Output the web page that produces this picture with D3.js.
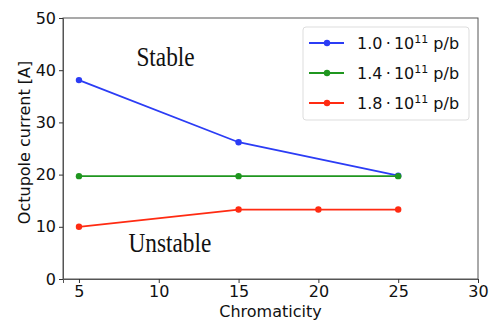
<!DOCTYPE html>
<html>
<head>
<meta charset="utf-8">
<script src="https://cdn.jsdelivr.net/npm/d3@7"></script>
<style>
  body { margin: 0; background: #fff; }
</style>
</head>
<body>
<svg id="chart" width="490" height="322"></svg>
<script>
// data
const chromaticity = [5, 15, 25]
const chromaticityRed = [5, 15, 20, 25]
const blueValues = [38.1, 26.2, 19.8]
const greenValues = [19.7, 19.7, 19.7]
const redValues = [10.0, 13.3, 13.3, 13.3]
const seriesLabels = ['1.0', '1.4', '1.8']
const xTicks = [5, 10, 15, 20, 25, 30]
const yTicks = [0, 10, 20, 30, 40, 50]

const series = [
    { name: seriesLabels[0], color: '#2b3cf5', xs: chromaticity, ys: blueValues },
    { name: seriesLabels[1], color: '#1f961f', xs: chromaticity, ys: greenValues },
    { name: seriesLabels[2], color: '#ff2b12', xs: chromaticityRed, ys: redValues }
]

const margin = { top: 18, right: 12, bottom: 43, left: 63 }
const width = 490 - margin.left - margin.right
const height = 322 - margin.top - margin.bottom
const sans = 'DejaVu Sans, sans-serif'
const serif = 'Liberation Serif, serif'

const svg = d3.select('#chart')
const g = svg.append('g')
    .attr('transform', `translate(${margin.left}, ${margin.top})`)

const x = d3.scaleLinear().domain([4, 30]).range([0, width])
const y = d3.scaleLinear().domain([0, 50]).range([height, 0])

//frame
g.append('rect')
    .attr('width', width)
    .attr('height', height)
    .attr('fill', 'none')
    .attr('stroke', '#555')
    .attr('stroke-width', 1)

//axes
const xAxis = g.append('g')
    .attr('transform', `translate(0, ${height})`)
    .call(d3.axisBottom(x).tickValues(xTicks).tickSize(4).tickPadding(3))
const yAxis = g.append('g')
    .call(d3.axisLeft(y).tickValues(yTicks).tickSize(4).tickPadding(3))

;[xAxis, yAxis].forEach(a => {
    a.select('.domain').attr('stroke', '#555')
    a.selectAll('line').attr('stroke', '#333')
    a.selectAll('text')
        .style('font-family', sans)
        .style('font-size', '16px')
        .attr('fill', '#111')
})

//axis labels
g.append('text')
    .attr('x', width / 2)
    .attr('y', height + 38)
    .style('font-family', sans)
    .style('font-size', '16px')
    .attr('text-anchor', 'middle')
    .attr('fill', '#111')
    .text('Chromaticity')

g.append('text')
    .attr('transform', 'rotate(-90)')
    .attr('x', -(height / 2) + 6)
    .attr('y', -33)
    .style('font-family', sans)
    .style('font-size', '16px')
    .attr('text-anchor', 'middle')
    .attr('fill', '#111')
    .text('Octupole current [A]')

//lines + dots
const line = d3.line()
    .x(d => x(d[0]))
    .y(d => y(d[1]))

series.forEach(s => {
    const pts = s.xs.map((v, i) => [v, s.ys[i]])
    g.append('path')
        .datum(pts)
        .attr('fill', 'none')
        .attr('stroke', s.color)
        .attr('stroke-width', 1.8)
        .attr('d', line)
    g.selectAll(null)
        .data(pts)
        .enter().append('circle')
        .attr('cx', d => x(d[0]))
        .attr('cy', d => y(d[1]))
        .attr('r', 3.2)
        .attr('fill', s.color)
})

//region labels (serif text looks a bit stretched vertically in the original)
const regionLabel = (text, xv, yv) => {
    g.append('text')
        .attr('transform', `translate(${x(xv)}, ${y(yv)}) scale(1, 1.17)`)
        .style('font-family', serif)
        .style('font-size', '23.3px')
        .attr('fill', '#111')
        .text(text)
}
regionLabel('Stable', 8.6, 40.8)
regionLabel('Unstable', 8.1, 5.1)

//legend
const legend = g.append('g')
    .attr('transform', `translate(${303 - margin.left}, ${27 - margin.top})`)

legend.append('rect')
    .attr('width', 166)
    .attr('height', 93)
    .attr('rx', 3)
    .attr('fill', '#fff')
    .attr('stroke', '#ddd')

series.forEach((s, i) => {
    const row = legend.append('g')
        .attr('transform', `translate(0, ${16 + i * 30})`)
    row.append('line')
        .attr('x1', 6).attr('x2', 41)
        .attr('stroke', s.color)
        .attr('stroke-width', 1.8)
    row.append('circle')
        .attr('cx', 24)
        .attr('r', 3.2)
        .attr('fill', s.color)
    const t = row.append('text')
        .attr('x', 54)
        .attr('y', 6)
        .style('font-family', sans)
        .style('font-size', '16px')
        .attr('fill', '#111')
    t.append('tspan').text(`${s.name}\u2009\u00b7\u200910`)
    t.append('tspan').style('font-size', '11px').attr('dy', -6).text('11')
    t.append('tspan').attr('dy', 6).text(' p/b')
})
</script>
</body>
</html>
